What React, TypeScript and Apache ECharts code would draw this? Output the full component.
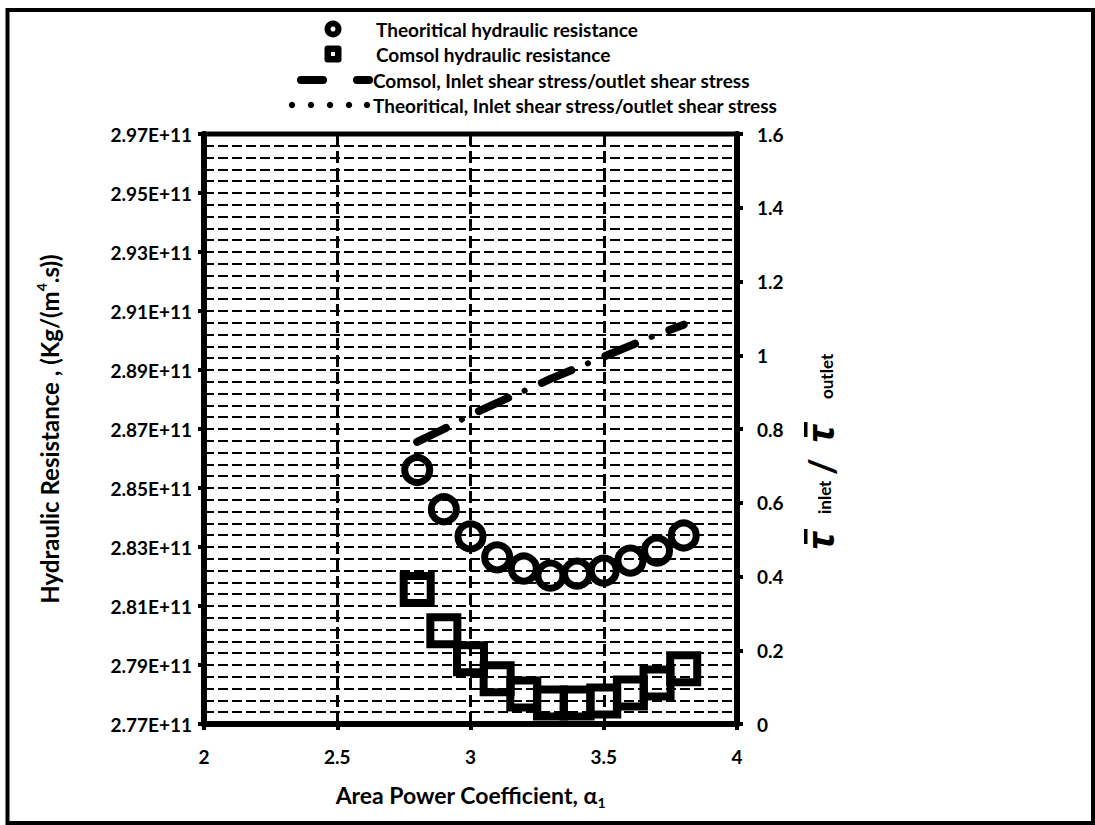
import React, { useEffect, useRef } from "react";
import * as echarts from "echarts";

// ---------- data ----------
const alpha = [2.8, 2.9, 3.0, 3.1, 3.2, 3.3, 3.4, 3.5, 3.6, 3.7, 3.8];
// hydraulic resistance in units of 1E+11 Kg/(m^4.s)
const theoreticalResistance = [2.8561, 2.8428, 2.8336, 2.8265, 2.8227, 2.8203, 2.821, 2.822, 2.8254, 2.8288, 2.8339];
const comsolResistance = [2.8156, 2.8016, 2.7921, 2.7853, 2.7802, 2.7771, 2.7771, 2.7778, 2.7805, 2.7839, 2.7887];
// inlet shear stress / outlet shear stress
const comsolShearRatio = [0.765, 0.8, 0.838, 0.871, 0.903, 0.936, 0.966, 0.996, 1.026, 1.056, 1.083];
const theoreticalShearRatio = [0.765, 0.8, 0.838, 0.871, 0.903, 0.936, 0.966, 0.996, 1.026, 1.056, 1.083];

const xMin = 2;
const xMax = 4;
const xStep = 0.5;
const leftBase = 2.77; // E+11, bottom of left axis
const leftSpan = 0.2;
const leftStep = 0.02;
const rightMin = 0;
const rightMax = 1.6;
const rightStep = 0.2;

const legendNames = [
  "Theoritical hydraulic resistance",
  "Comsol hydraulic resistance",
  "Comsol, Inlet shear stress/outlet shear stress",
  "Theoritical, Inlet shear stress/outlet shear stress",
];

const FONT = "Lato, 'Noto Sans', 'DejaVu Sans', sans-serif";

export default function App() {
  const ref = useRef<HTMLDivElement>(null);

  useEffect(() => {
    if (!ref.current) return;
    const chart = echarts.init(ref.current, undefined, { renderer: "svg" });

    const gridStyle = { color: "#000", width: 2, type: [10, 4] as number[] };
    const labelStyle = { color: "#000", fontFamily: FONT, fontWeight: "bold" as const, fontSize: 19 };

    // legend drawn with graphics
    const lx = 333;
    const rows = [29, 54, 80, 105];
    const legendGraphics: any[] = [
      { type: "circle", shape: { cx: lx, cy: rows[0], r: 8.5 }, style: { fill: "#000" } },
      { type: "circle", shape: { cx: lx, cy: rows[0], r: 2.5 }, style: { fill: "#fff" } },
      { type: "rect", shape: { x: lx - 8.5, y: rows[1] - 8.5, width: 17, height: 17, r: 3 }, style: { fill: "#000" } },
      { type: "rect", shape: { x: lx - 2, y: rows[1] - 2, width: 4, height: 4 }, style: { fill: "#fff" } },
      { type: "line", shape: { x1: 301, y1: rows[2], x2: 323, y2: rows[2] }, style: { stroke: "#000", lineWidth: 8, lineCap: "round" } },
      { type: "line", shape: { x1: 357, y1: rows[2], x2: 369, y2: rows[2] }, style: { stroke: "#000", lineWidth: 8, lineCap: "round" } },
      ...[292, 311, 330, 349, 367].map((cx) => ({ type: "circle", shape: { cx, cy: rows[3], r: 3.2 }, style: { fill: "#000" } })),
      ...legendNames.map((t, i) => ({
        type: "text",
        x: i >= 2 ? 373 : 376,
        y: rows[i],
        style: { text: t, fill: "#000", font: `bold 19px ${FONT}`, textAlign: "left", textVerticalAlign: "middle" },
      })),
    ];

    // right axis title: tau_inlet / tau_outlet (rotated, read bottom to top)
    const tauFont = `italic bold 37px 'Noto Sans', 'DejaVu Sans', sans-serif`;
    const mid = (text: string, x: number, y: number, font: string) => ({
      type: "text",
      x,
      y,
      style: { text, font, fill: "#000", textAlign: "left", textVerticalAlign: "middle" },
    });
    const rightTitle = {
      type: "group",
      x: 823,
      y: 552,
      rotation: Math.PI / 2,
      children: [
        mid("τ", 2, -4, tauFont),
        { type: "rect", shape: { x: 8, y: -19, width: 15, height: 3.5 }, style: { fill: "#000" } },
        mid("inlet", 38, 1, `bold 17px ${FONT}`),
        mid("/", 77, -2, `bold 36px ${FONT}`),
        mid("τ", 109, -4, tauFont),
        { type: "rect", shape: { x: 115, y: -19, width: 15, height: 3.5 }, style: { fill: "#000" } },
        mid("outlet", 153, 3, `bold 17px ${FONT}`),
      ],
    };

    const option: any = {
      animation: false,
      backgroundColor: "#fff",
      grid: { left: 204, right: 358, top: 134, bottom: 101, show: true, borderColor: "#000", borderWidth: 5, containLabel: false },
      xAxis: {
        type: "value",
        min: xMin,
        max: xMax,
        interval: xStep,
        axisLine: { show: true, onZero: false, lineStyle: { color: "#000", width: 6 } },
        axisTick: { show: true, length: 6, lineStyle: { color: "#000", width: 4 } },
        axisLabel: { ...labelStyle, margin: 23 },
        splitLine: { show: true, lineStyle: { color: "#000", width: 3, type: [12, 5] } },
        name: "Area Power Coefficient, α{sub|1}",
        nameLocation: "middle",
        nameGap: 57,
        nameTextStyle: {
          color: "#000",
          fontFamily: FONT,
          fontWeight: "bold",
          fontSize: 23,
          lineHeight: 28,
          rich: { sub: { fontFamily: FONT, fontWeight: "bold", fontSize: 14, lineHeight: 15, verticalAlign: "bottom", color: "#000" } },
        },
      },
      yAxis: [
        {
          type: "value",
          position: "left",
          min: 0,
          max: leftSpan,
          interval: leftStep,
          axisLine: { show: true, lineStyle: { color: "#000", width: 6 } },
          axisTick: { show: true, length: 6, lineStyle: { color: "#000", width: 4 } },
          axisLabel: { ...labelStyle, margin: 12, formatter: (v: number) => (leftBase + v).toFixed(2) + "E+11" },
          splitLine: { show: true, lineStyle: gridStyle },
          minorTick: { show: false, splitNumber: 5 },
          minorSplitLine: { show: true, lineStyle: gridStyle },
          name: "Hydraulic Resistance , (Kg/(m{sup|4}.s))",
          nameLocation: "middle",
          nameRotate: 90,
          nameGap: 140,
          nameTextStyle: {
            color: "#000",
            fontFamily: FONT,
            fontWeight: "bold",
            fontSize: 24,
            lineHeight: 30,
            rich: { sup: { fontFamily: FONT, fontWeight: "bold", fontSize: 14, lineHeight: 14, verticalAlign: "top", color: "#000" } },
          },
        },
        {
          type: "value",
          position: "right",
          min: rightMin,
          max: rightMax,
          interval: rightStep,
          axisLine: { show: true, lineStyle: { color: "#000", width: 6 } },
          axisTick: { show: true, length: 6, lineStyle: { color: "#000", width: 4 } },
          axisLabel: { ...labelStyle, margin: 20 },
          splitLine: { show: false },
        },
      ],
      series: [
        {
          name: legendNames[0],
          type: "scatter",
          yAxisIndex: 0,
          symbol: "circle",
          symbolSize: 25,
          itemStyle: { color: "rgba(0,0,0,0)", borderColor: "#000", borderWidth: 7, opacity: 1 },
          data: alpha.map((a, i) => [a, theoreticalResistance[i] - leftBase]),
          z: 5,
        },
        {
          name: legendNames[1],
          type: "scatter",
          yAxisIndex: 0,
          symbol: "rect",
          symbolSize: 27,
          itemStyle: { color: "rgba(0,0,0,0)", borderColor: "#000", borderWidth: 8, opacity: 1 },
          data: alpha.map((a, i) => [a, comsolResistance[i] - leftBase]),
          z: 5,
        },
        {
          name: legendNames[3],
          type: "line",
          yAxisIndex: 1,
          symbol: "none",
          lineStyle: { color: "#000", width: 6, type: [0.1, 68.9], dashOffset: 18.5, cap: "round" },
          data: alpha.map((a, i) => [a, theoreticalShearRatio[i]]),
          z: 6,
        },
        {
          name: legendNames[2],
          type: "line",
          yAxisIndex: 1,
          symbol: "none",
          lineStyle: { color: "#000", width: 8, type: [32, 37], cap: "round" },
          data: alpha.map((a, i) => [a, comsolShearRatio[i]]),
          z: 6,
        },
      ],
      graphic: [
        { type: "rect", shape: { x: 7.5, y: 10, width: 1085.5, height: 813 }, style: { fill: "none", stroke: "#000", lineWidth: 4 }, silent: true },
        ...legendGraphics,
        rightTitle,
      ],
    };

    chart.setOption(option);
    return () => chart.dispose();
  }, []);

  return <div ref={ref} style={{ position: "absolute", left: 0, top: 0, width: 1095, height: 825 }} />;
}
